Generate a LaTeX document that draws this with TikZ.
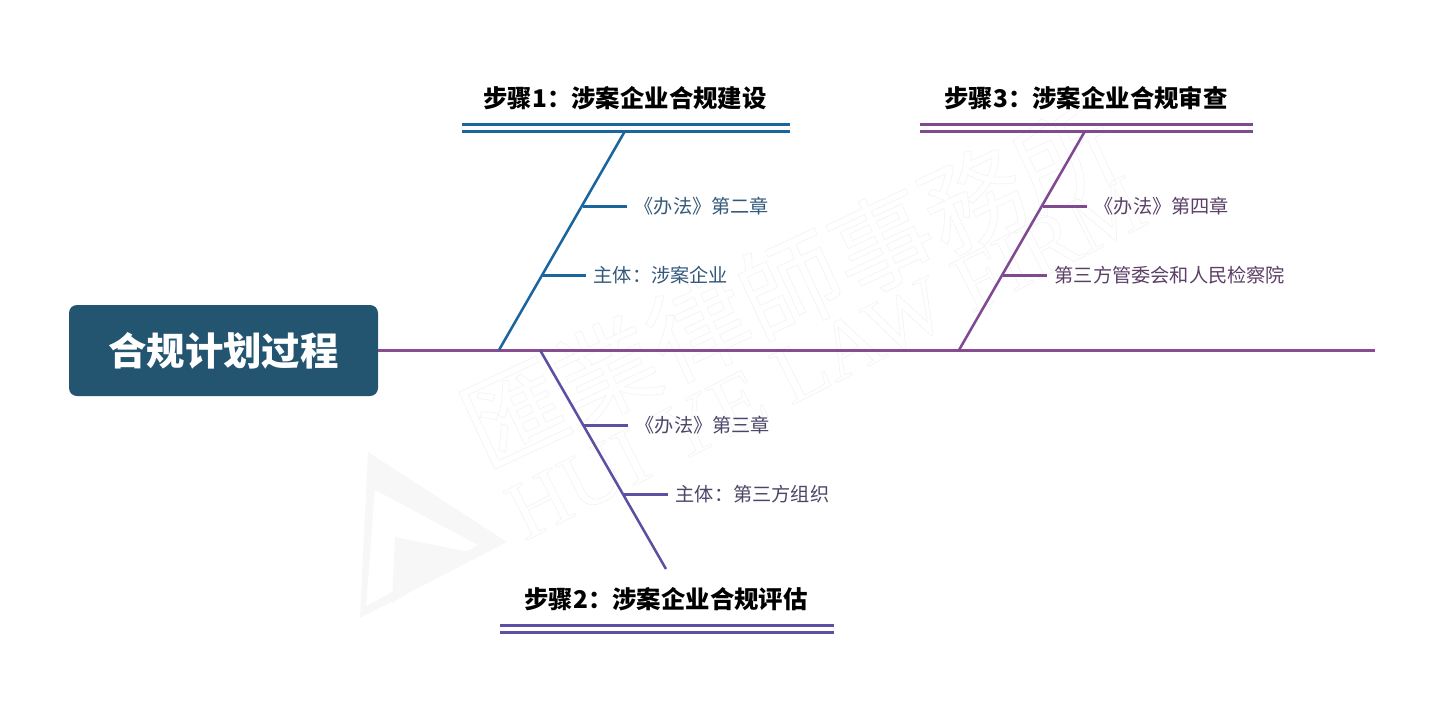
\documentclass[tikz,border=0pt]{standalone}
\usepackage{fontspec}
\setmainfont{Noto Sans CJK SC}
\newfontfamily\wmfont{Liberation Serif}
\definecolor{headblue}{HTML}{235570}
\definecolor{boneblue}{HTML}{1A659E}
\definecolor{bonevio}{HTML}{5E4FA2}
\definecolor{bonepur}{HTML}{7F4A92}
\definecolor{spinepur}{HTML}{8A4C90}
\definecolor{textblue}{HTML}{33587A}
\definecolor{textvio}{HTML}{4B4668}
\definecolor{textpur}{HTML}{5A3F66}
\definecolor{wmgray}{HTML}{F7F7F7}
\newcommand{\wmoutline}[1]{\special{pdf:code q 1 Tr 0.6 w 0.955 G}#1\special{pdf:code Q}}
\tikzset{
  headbox/.style={fill=headblue,rounded corners=6pt,text=white,font=\fontsize{28.8pt}{32pt}\bfseries\selectfont,minimum width=231.75pt,minimum height=68.25pt,inner sep=0pt},
  steptitle/.style={font=\fontsize{18.3pt}{22pt}\bfseries\selectfont,text=black,inner sep=0pt},
  twiglabel/.style={anchor=west,font=\fontsize{14.4pt}{18pt}\selectfont,inner sep=0pt,inner xsep=5.5pt},
  boneline/.style={line width=1.9pt},
  twigline/.style={line width=2.2pt},
  ruleline/.style={line width=2.2pt}
}
\begin{document}
\begin{tikzpicture}[x=0.75pt,y=-0.75pt]
\useasboundingbox (0,0) rectangle (1444,701);
% watermark
\fill[wmgray] (368,452) -- (507,542) -- (360,618) -- cycle;
\fill[white] (375,490) -- (478,545) -- (366,606) -- cycle;
\fill[wmgray] (395,537) -- (473,553) -- (392,603) -- cycle;
\node[rotate=25,font=\fontsize{76pt}{80pt}\selectfont,inner sep=0pt] (wmcn) at (790,285) {\wmoutline{匯業律師事務所}};
\node[rotate=27,font=\fontsize{62pt}{66pt}\wmfont\selectfont,inner sep=0pt] (wmen) at (826,358) {\wmoutline{HUI YE LAW FIRM}};
% head and spine
\node[headbox] (head) at (223.5,350.5) {合规计划过程};
\coordinate (spineend) at (1375,350.5);
\draw[spinepur,twigline] (head.east) -- (spineend);
% step 1
\node[steptitle] (step1) at (625,98) {步骤1：涉案企业合规建设};
\coordinate (r1a) at (462,124.5); \coordinate (r1b) at (790,124.5);
\coordinate (r1c) at (462,131.5); \coordinate (r1d) at (790,131.5);
\coordinate (b1a) at (499,350); \coordinate (b1b) at (625,131);
\draw[boneblue,ruleline] (r1a) -- (r1b);
\draw[boneblue,ruleline] (r1c) -- (r1d);
\draw[boneblue,boneline] (b1a) -- (b1b);
\coordinate (t1a) at (582.5,206.5); \coordinate (t1b) at (542.5,275.5);
\node[twiglabel,text=textblue] (l1a) at (627,206.5) {《办法》第二章};
\node[twiglabel,text=textblue] (l1b) at (586,275.5) {主体：涉案企业};
\draw[boneblue,twigline] (t1a) -- (l1a);
\draw[boneblue,twigline] (t1b) -- (l1b);
% step 2
\node[steptitle] (step2) at (666,599) {步骤2：涉案企业合规评估};
\coordinate (r2a) at (500,625.5); \coordinate (r2b) at (834,625.5);
\coordinate (r2c) at (500,632.5); \coordinate (r2d) at (834,632.5);
\coordinate (b2a) at (540,350); \coordinate (b2b) at (666,569);
\draw[bonevio,ruleline] (r2a) -- (r2b);
\draw[bonevio,ruleline] (r2c) -- (r2d);
\draw[bonevio,boneline] (b2a) -- (b2b);
\coordinate (t2a) at (584,425.5); \coordinate (t2b) at (623.5,494.5);
\node[twiglabel,text=textvio] (l2a) at (628,425.5) {《办法》第三章};
\node[twiglabel,text=textvio] (l2b) at (668,494.5) {主体：第三方组织};
\draw[bonevio,twigline] (t2a) -- (l2a);
\draw[bonevio,twigline] (t2b) -- (l2b);
% step 3
\node[steptitle] (step3) at (1086,98) {步骤3：涉案企业合规审查};
\coordinate (r3a) at (920,124.5); \coordinate (r3b) at (1253,124.5);
\coordinate (r3c) at (920,131.5); \coordinate (r3d) at (1253,131.5);
\coordinate (b3a) at (959,350); \coordinate (b3b) at (1085,131);
\draw[bonepur,ruleline] (r3a) -- (r3b);
\draw[bonepur,ruleline] (r3c) -- (r3d);
\draw[bonepur,boneline] (b3a) -- (b3b);
\coordinate (t3a) at (1042.5,206.5); \coordinate (t3b) at (1002.5,275.5);
\node[twiglabel,text=textpur] (l3a) at (1087,206.5) {《办法》第四章};
\node[twiglabel,text=textpur] (l3b) at (1047,275.5) {第三方管委会和人民检察院};
\draw[bonepur,twigline] (t3a) -- (l3a);
\draw[bonepur,twigline] (t3b) -- (l3b);
\end{tikzpicture}
\end{document}
